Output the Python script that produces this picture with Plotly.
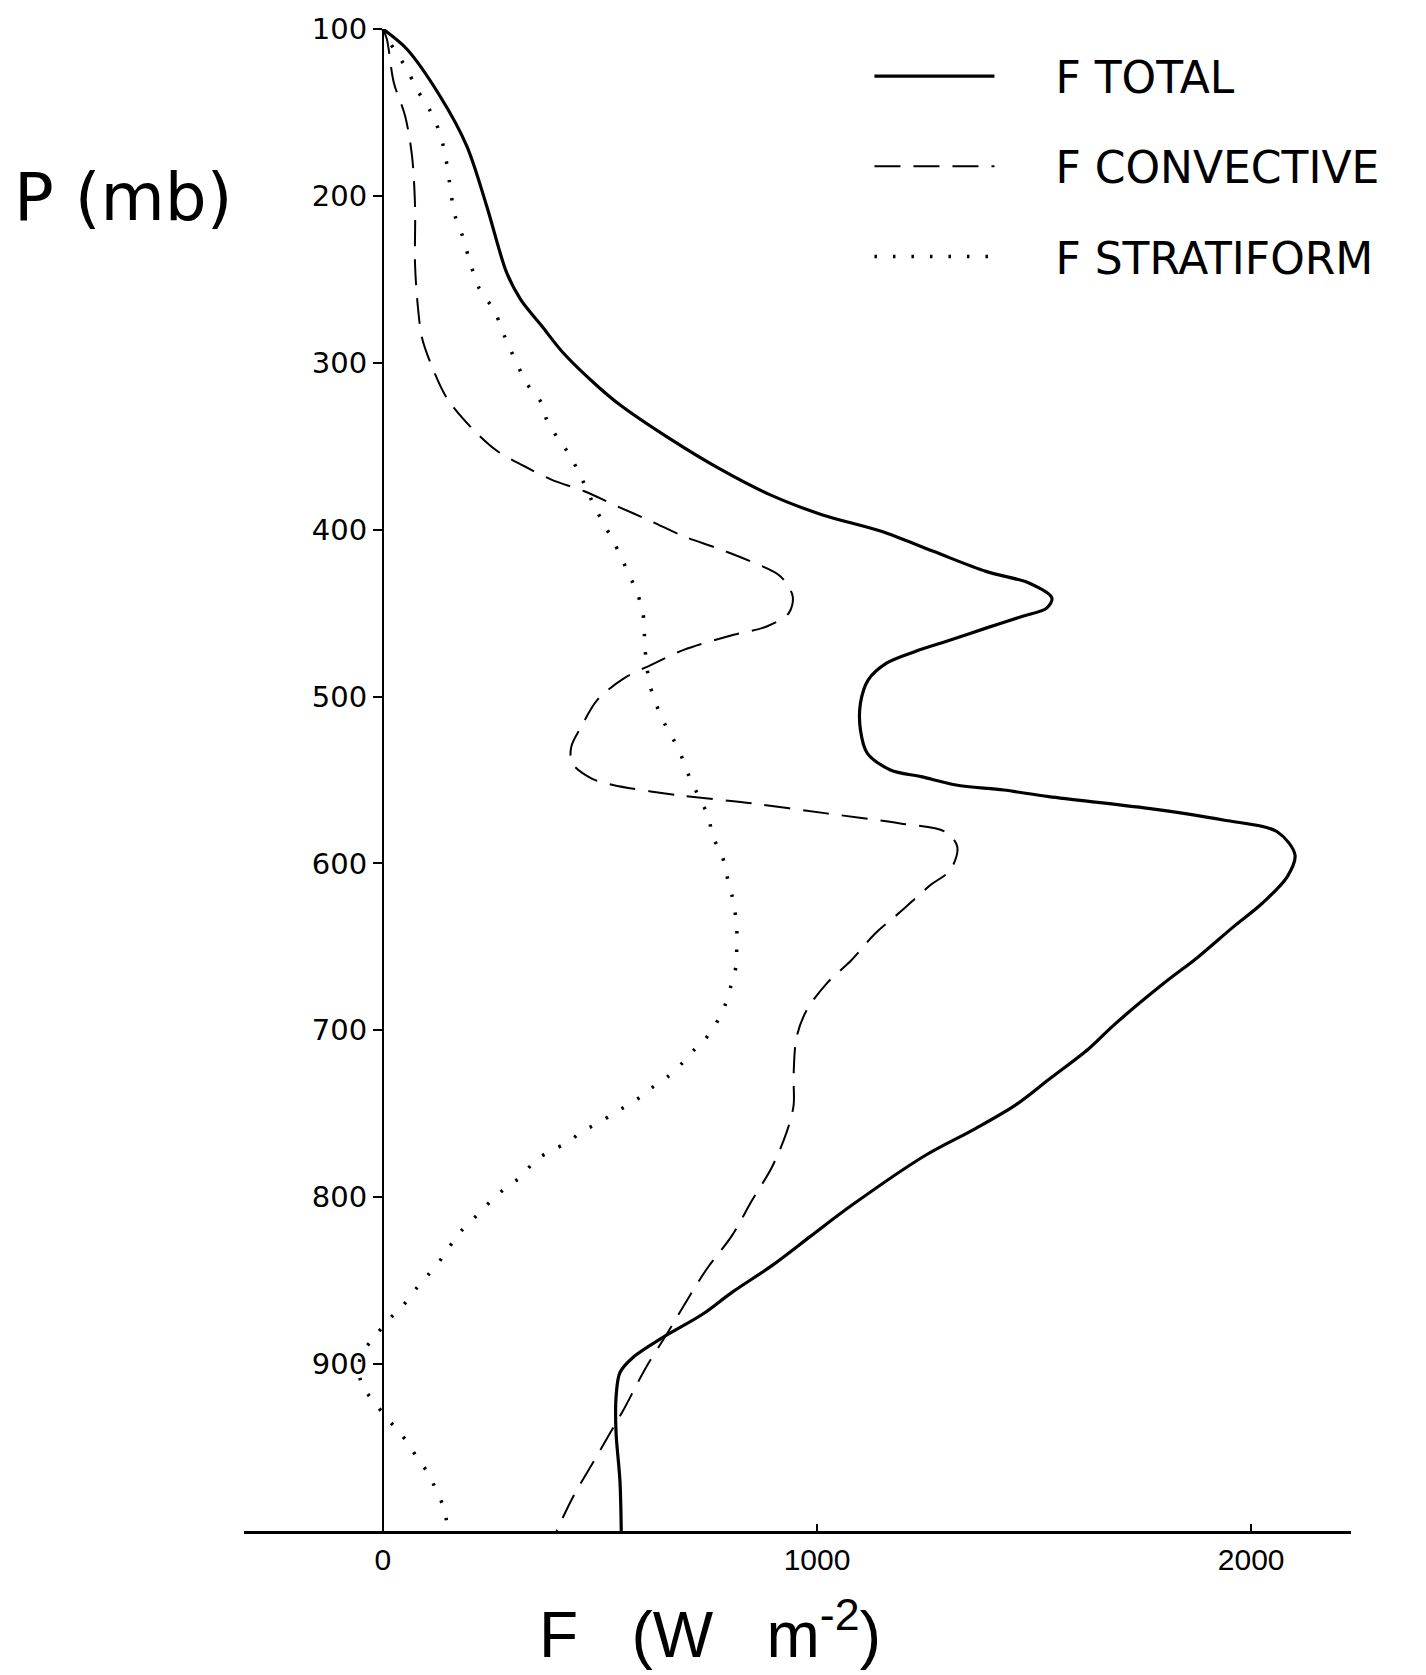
import plotly.graph_objects as go

# Vertical profiles of heating flux F (W m-2) against pressure (mb)
p_total = [100, 112, 140, 170, 206, 246, 262, 278, 294, 313, 325, 345, 363, 379, 391,
           401, 413, 425, 432, 441, 447, 452, 459, 466, 473, 480, 490, 504, 520, 534,
           544, 548, 553, 556, 560, 567, 574, 581, 595, 608, 624, 638, 656, 672,
           697, 711, 729, 745, 759, 775, 805, 823, 841, 857, 870, 884, 896, 905,
           920, 941, 970, 1000]
f_total = [0, 55, 131, 193, 239, 285, 317, 366, 415, 490, 545, 658, 772, 891, 1011,
           1148, 1268, 1389, 1488, 1541, 1529, 1472, 1389, 1309, 1226, 1160, 1118, 1100, 1100, 1116,
           1169, 1240, 1320, 1430, 1534, 1763, 1936, 2060, 2101, 2083, 2025, 1959, 1878, 1798,
           1683, 1626, 1536, 1456, 1364, 1249, 1079, 987, 896, 804, 737, 645, 576, 546,
           537, 537, 546, 549]

p_conv = [100, 106, 132, 152, 176, 206, 241, 265, 285, 299, 321, 339, 353, 362, 370,
          377, 386, 395, 404, 411, 419, 428, 440, 450, 458, 463, 472, 481, 489, 502,
          518, 530, 540, 549, 553, 559, 564, 570, 576, 581, 590, 604, 613, 629, 642,
          658, 672, 688, 704, 727, 745, 761, 782, 802, 823, 843, 862, 882, 902, 928,
          941, 959, 979, 1000]
f_conv = [0, 9, 25, 51, 67, 74, 74, 80, 90, 108, 147, 204, 264, 326, 388,
          464, 540, 618, 693, 769, 847, 916, 944, 935, 884, 808, 693, 618, 556, 494,
          457, 434, 436, 480, 530, 677, 850, 1022, 1192, 1295, 1323, 1307, 1261, 1192, 1134,
          1079, 1022, 976, 953, 946, 946, 930, 896, 850, 804, 746, 700, 654, 606, 553,
          524, 484, 439, 400]

p_strat = [100, 108, 124, 136, 153, 171, 193, 211, 223, 239, 255, 269, 284, 313, 324,
           334, 345, 354, 365, 388, 398, 408, 428, 438, 450, 461, 472, 493, 512, 522,
           531, 550, 573, 583, 595, 607, 619, 629, 638, 651, 662, 673, 685, 697, 706,
           712, 720, 728, 735, 742, 749, 755, 761, 767, 772, 778, 788, 793, 802, 811,
           820, 826, 835, 846, 855, 865, 873, 883, 892, 901, 911, 919, 934, 941, 948,
           956, 966, 974, 986, 1000]
f_strat = [0, 16, 55, 78, 117, 140, 154, 165, 182, 200, 221, 257, 280, 333, 365,
           377, 402, 427, 450, 491, 512, 533, 569, 586, 599, 602, 604, 615, 641, 661,
           680, 709, 751, 758, 781, 792, 804, 811, 815, 815, 813, 802, 788, 765, 740,
           716, 688, 655, 616, 582, 536, 500, 456, 427, 388, 351, 317, 289, 250, 216,
           181, 163, 140, 106, 76, 46, 15, -17, -44, -56, -50, -32, 15, 38, 60,
           78, 106, 120, 140, 150]

series_names = ["F TOTAL", "F CONVECTIVE", "F STRATIFORM"]
p_ticks = [100, 200, 300, 400, 500, 600, 700, 800, 900]
f_ticks = [0, 1000, 2000]

x_range = [-320, 2230]
y_range = [1000, 100]

# gap between each legend sample line and its label
label_pad = "\u00a0" * 4

fig = go.Figure()
fig.add_trace(go.Scatter(
    x=f_total, y=p_total, mode="lines", name=label_pad + series_names[0], legendgroup="a",
    line=dict(color="black", width=3.2, shape="spline", smoothing=0.9)))
fig.add_trace(go.Scatter(
    x=f_conv, y=p_conv, mode="lines", name=label_pad + series_names[1], legendgroup="b",
    line=dict(color="black", width=2, dash="26px,13px", shape="spline", smoothing=0.9)))
fig.add_trace(go.Scatter(
    x=f_strat, y=p_strat, mode="lines", name=label_pad + series_names[2], legendgroup="c",
    line=dict(color="black", width=3.5, dash="2.5px,16px", shape="spline", smoothing=0.9)))

# place the pressure axis on the F = 0 line
y_pos = (0 - x_range[0]) / (x_range[1] - x_range[0])

fig.update_layout(
    width=1426, height=1675,
    margin=dict(l=244, r=75, t=23, b=144),
    paper_bgcolor="white", plot_bgcolor="white",
    showlegend=True,
    legend=dict(
        x=0.565, y=0.992, xanchor="left", yanchor="top",
        font=dict(family="DejaVu Sans", size=44, color="black"),
        itemwidth=120, tracegroupgap=30, bgcolor="rgba(0,0,0,0)",
    ),
    xaxis=dict(
        range=x_range, showgrid=False, zeroline=False,
        showline=True, linecolor="black", linewidth=3,
        tickmode="array", tickvals=f_ticks, ticktext=[str(v) for v in f_ticks],
        ticks="inside", ticklen=7, tickwidth=2, tickcolor="black",
        ticklabelstandoff=0,
        tickfont=dict(family="Liberation Sans Narrow, Liberation Sans", size=30, color="black"),
    ),
    yaxis=dict(
        range=y_range, anchor="free", position=y_pos,
        showgrid=False, zeroline=False,
        showline=True, linecolor="black", linewidth=2,
        tickmode="array", tickvals=p_ticks, ticktext=[str(v) for v in p_ticks],
        ticks="outside", ticklen=9, tickwidth=2, tickcolor="black",
        tickfont=dict(family="DejaVu Sans", size=29, color="black"),
    ),
    annotations=[
        dict(text="P (mb)", xref="paper", yref="paper", x=-0.2096, y=0.888,
             xanchor="left", yanchor="middle", showarrow=False,
             font=dict(family="DejaVu Sans", size=66, color="black")),
        dict(text="F\u00a0\u00a0\u00a0(W\u00a0\u00a0\u00a0m<sup>-2</sup>)", xref="paper", yref="paper",
             x=0.421, y=-0.066, xanchor="center", yanchor="middle", showarrow=False,
             font=dict(family="Liberation Sans", size=64, color="black")),
    ],
)

fig.write_html("out.html")
